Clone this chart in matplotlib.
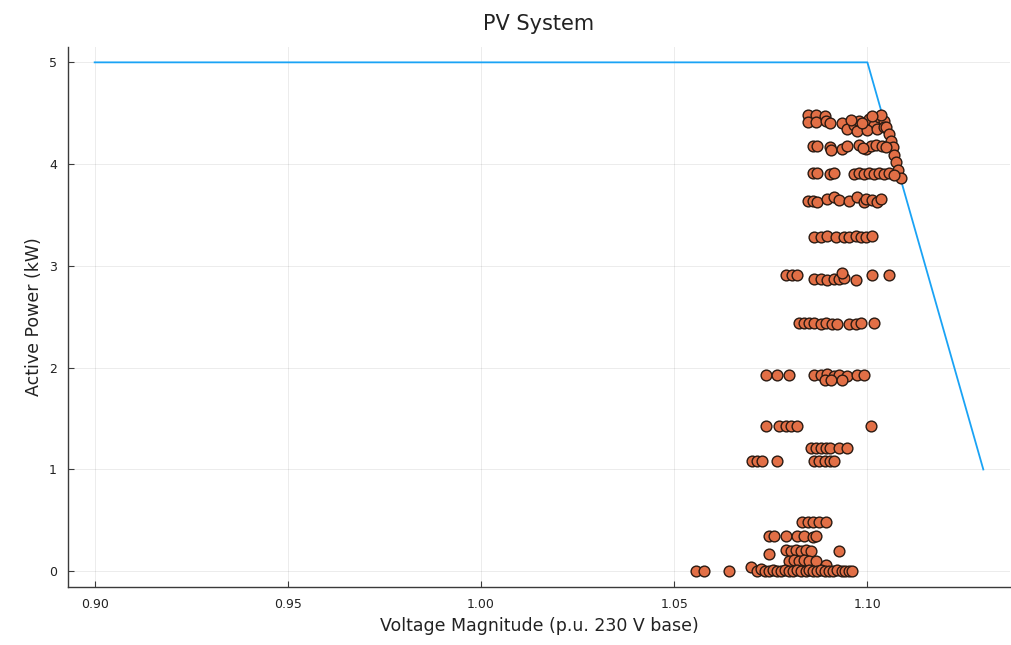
import matplotlib

matplotlib.use("Agg")

import matplotlib.pyplot as plt

# Volt-var style curve limit (p.u. voltage vs active power kW)
curve_v = [0.90, 1.10, 1.13]
curve_p = [5.0, 5.0, 1.0]

meas_v = [
    # ~4.45 kW
    1.0845, 1.0868, 1.0891, 1.0845, 1.0868, 1.0894, 1.0904,
    1.0935, 1.0948, 1.0966, 1.0979, 1.0992, 1.1005, 1.1018, 1.1031, 1.1044,
    1.0974, 1.1000, 1.1026, 1.1036, 1.1044, 1.0958, 1.0987, 1.1012,
    # droop tail
    1.1049, 1.1057, 1.1062, 1.1065, 1.1070, 1.1075, 1.1078, 1.1088,
    # ~4.18 kW
    1.0858, 1.0870, 1.0902, 1.0907, 1.0933, 1.0946,
    1.0979, 1.0997, 1.1010, 1.1023, 1.1039, 1.1049, 1.0988,
    # ~3.91 kW
    1.0858, 1.0870, 1.0902, 1.0914,
    1.0966, 1.0979, 1.0992, 1.1005, 1.1018, 1.1031, 1.1044, 1.1057, 1.1070,
    # ~3.64 kW
    1.0845, 1.0858, 1.0870, 1.0896, 1.0914, 1.0927, 1.0953,
    1.0974, 1.0992, 1.0997, 1.1013, 1.1026, 1.1036,
    # ~3.28 kW
    1.0863, 1.0881, 1.0896, 1.0920, 1.0940, 1.0953, 1.0971, 1.0984, 1.0997, 1.1013,
    # ~2.89 kW
    1.0790, 1.0806, 1.0819, 1.0863, 1.0881, 1.0896, 1.0914, 1.0927, 1.0940,
    1.0933, 1.0971, 1.1013, 1.1057,
    # ~2.44 kW
    1.0824, 1.0837, 1.0850, 1.0863, 1.0881, 1.0894, 1.0909, 1.0922,
    1.0953, 1.0971, 1.0984, 1.1018,
    # ~1.93 kW
    1.0738, 1.0767, 1.0798, 1.0863, 1.0881, 1.0896, 1.0914, 1.0927,
    1.0946, 1.0974, 1.0992, 1.0889, 1.0905, 1.0935,
    # ~1.43 kW
    1.0738, 1.0772, 1.0790, 1.0803, 1.0819, 1.1010,
    # ~1.21 kW
    1.0855, 1.0868, 1.0881, 1.0894, 1.0902, 1.0927, 1.0946,
    # ~1.08 kW
    1.0702, 1.0715, 1.0728, 1.0767, 1.0863, 1.0876, 1.0889, 1.0902, 1.0914,
    # ~0.48 kW
    1.0832, 1.0845, 1.0858, 1.0876, 1.0894,
    # ~0.35 kW
    1.0746, 1.0759, 1.0790, 1.0819, 1.0837, 1.0858, 1.0868,
    # ~0.2 kW
    1.0746, 1.0790, 1.0803, 1.0816, 1.0829, 1.0842, 1.0855, 1.0927,
    # ~0.1 kW
    1.0798, 1.0811, 1.0824, 1.0837, 1.0850, 1.0866, 1.0894,
    # ~0 kW
    1.0557, 1.0578, 1.0643, 1.0699,
    1.0715, 1.0725, 1.0735, 1.0746, 1.0756, 1.0767, 1.0777, 1.0787, 1.0798,
    1.0808, 1.0819, 1.0829, 1.0840, 1.0850, 1.0860, 1.0870, 1.0881, 1.0891,
    1.0901, 1.0912, 1.0922, 1.0933, 1.0943, 1.0953, 1.0961,
]
meas_p = [
    4.48, 4.48, 4.47, 4.41, 4.41, 4.42, 4.40,
    4.40, 4.35, 4.38, 4.42, 4.36, 4.44, 4.38, 4.46, 4.42,
    4.33, 4.34, 4.35, 4.48, 4.36, 4.43, 4.40, 4.47,
    4.36, 4.30, 4.23, 4.17, 4.09, 4.02, 3.94, 3.86,
    4.18, 4.18, 4.17, 4.14, 4.15, 4.18,
    4.19, 4.15, 4.18, 4.19, 4.18, 4.17, 4.16,
    3.91, 3.91, 3.90, 3.91,
    3.90, 3.91, 3.90, 3.91, 3.90, 3.91, 3.90, 3.91, 3.89,
    3.64, 3.64, 3.63, 3.66, 3.68, 3.65, 3.64,
    3.68, 3.63, 3.66, 3.65, 3.63, 3.66,
    3.28, 3.28, 3.29, 3.28, 3.28, 3.28, 3.29, 3.28, 3.28, 3.29,
    2.91, 2.91, 2.91, 2.87, 2.87, 2.86, 2.87, 2.87, 2.88,
    2.93, 2.86, 2.91, 2.91,
    2.44, 2.44, 2.44, 2.44, 2.43, 2.44, 2.43, 2.43,
    2.43, 2.43, 2.44, 2.44,
    1.93, 1.93, 1.93, 1.93, 1.93, 1.94, 1.92, 1.93,
    1.92, 1.93, 1.93, 1.88, 1.88, 1.88,
    1.43, 1.43, 1.43, 1.43, 1.43, 1.43,
    1.21, 1.21, 1.21, 1.21, 1.21, 1.21, 1.21,
    1.08, 1.08, 1.08, 1.08, 1.08, 1.08, 1.08, 1.08, 1.08,
    0.48, 0.48, 0.48, 0.48, 0.48,
    0.35, 0.35, 0.35, 0.35, 0.35, 0.34, 0.35,
    0.17, 0.21, 0.20, 0.21, 0.20, 0.21, 0.20, 0.20,
    0.10, 0.11, 0.10, 0.11, 0.10, 0.10, 0.06,
    0.00, 0.00, 0.00, 0.04,
    0.00, 0.02, 0.00, 0.00, 0.01, 0.00, 0.00, 0.01, 0.00,
    0.00, 0.01, 0.00, 0.00, 0.01, 0.00, 0.00, 0.01, 0.00,
    0.00, 0.00, 0.01, 0.00, 0.00, 0.00, 0.00,
]

x_ticks = [0.90, 0.95, 1.00, 1.05, 1.10]
y_ticks = [0, 1, 2, 3, 4, 5]

fig = plt.figure(figsize=(10.12, 6.45), dpi=100)
ax = fig.add_axes([0.0672, 0.0899, 0.9308, 0.8371])

ax.plot(curve_v, curve_p, color="#1aa3f5", linewidth=1.3, zorder=2)
ax.scatter(meas_v, meas_p, s=60, color="#E26F46", edgecolors="#2a1a12",
           linewidths=1.0, zorder=3)

ax.set_xlim(0.8931, 1.1369)
ax.set_ylim(-0.155, 5.15)
ax.set_xticks(x_ticks)
ax.set_xticklabels([f"{v:.2f}" for v in x_ticks])
ax.set_yticks(y_ticks)

ax.grid(True, color="#000000", alpha=0.08, linewidth=0.7)
ax.set_axisbelow(True)
for side in ["top", "right"]:
    ax.spines[side].set_visible(False)
for side in ["left", "bottom"]:
    ax.spines[side].set_color("#3a3a3a")
    ax.spines[side].set_linewidth(1.0)
ax.tick_params(direction="in", length=4, width=0.8, color="#3a3a3a",
               labelsize=9, labelcolor="#222222", pad=8)

ax.set_xlabel("Voltage Magnitude (p.u. 230 V base)", fontsize=12.5, color="#222222")
ax.set_ylabel("Active Power (kW)", fontsize=12.5, color="#222222")
ax.set_title("PV System", fontsize=15, color="#222222", pad=12)

plt.savefig("out.png", dpi=100)
